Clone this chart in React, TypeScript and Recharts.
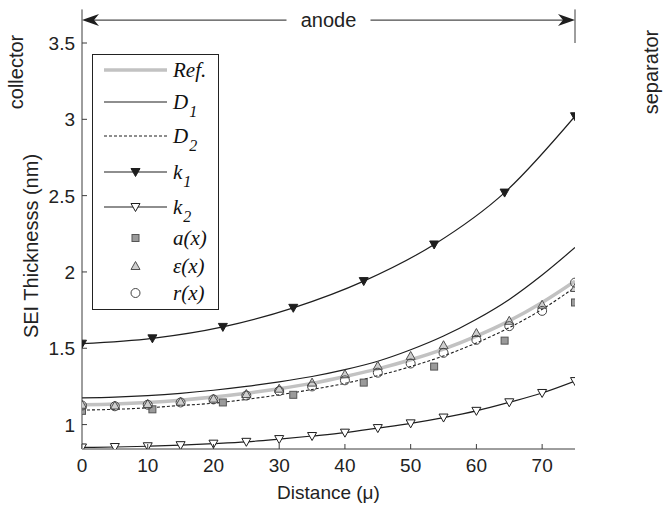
import React from 'react';
import { ComposedChart, Line, Scatter, XAxis, YAxis, ReferenceLine, Legend } from 'recharts';

// Distance grids (μ)
const distanceFine = [0, 5, 10, 15, 20, 25, 30, 35, 40, 45, 50, 55, 60, 65, 70, 75];
const distanceCoarse = [0, 10.71, 21.43, 32.14, 42.86, 53.57, 64.29, 75];

// SEI thickness (nm)
const refThickness = [1.13, 1.135, 1.145, 1.16, 1.18, 1.205, 1.235, 1.27, 1.315, 1.365, 1.425, 1.495, 1.58, 1.68, 1.8, 1.94];
const d1Thickness = [1.175, 1.18, 1.19, 1.205, 1.225, 1.25, 1.28, 1.315, 1.36, 1.415, 1.49, 1.58, 1.69, 1.82, 1.98, 2.16];
const d2Thickness = [1.095, 1.1, 1.11, 1.125, 1.14, 1.165, 1.195, 1.23, 1.27, 1.32, 1.38, 1.45, 1.535, 1.635, 1.755, 1.9];
const k1Thickness = [1.53, 1.565, 1.64, 1.765, 1.94, 2.18, 2.52, 3.02];
const k2Thickness = [0.85, 0.853, 0.858, 0.865, 0.875, 0.887, 0.905, 0.925, 0.947, 0.977, 1.008, 1.046, 1.09, 1.146, 1.207, 1.285];
const aThickness = [1.09, 1.1, 1.145, 1.195, 1.275, 1.38, 1.55, 1.8];
const epsThickness = [1.13, 1.125, 1.135, 1.15, 1.17, 1.2, 1.235, 1.275, 1.33, 1.385, 1.45, 1.52, 1.6, 1.68, 1.785, 1.895];
const rThickness = [1.125, 1.12, 1.13, 1.145, 1.165, 1.19, 1.22, 1.25, 1.29, 1.34, 1.4, 1.47, 1.555, 1.645, 1.745, 1.93];

const xTicks = [0, 10, 20, 30, 40, 50, 60, 70];
const yTicks = [1, 1.5, 2, 2.5, 3, 3.5];
const xDomain = [0, 75];
const yDomain = [0.84, 3.5];

const toPoints = (xs: number[], ys: number[]) => xs.map((x, i) => ({ x, y: ys[i] }));

const AXIS = '#3c3c3c';
const INK = '#1e1e1e';
const SANS = '"Liberation Sans", Arial, Helvetica, sans-serif';
const SERIF = '"Liberation Serif", "Times New Roman", serif';

// Marker glyphs
const downTri = (cx: number, cy: number, fill: string, stroke: string, key?: any) => (
  <path key={key} d={`M${cx - 4.5},${cy - 3.5} L${cx + 4.5},${cy - 3.5} L${cx},${cy + 4.5} Z`} fill={fill} stroke={stroke} strokeWidth={1} />
);
const upTri = (cx: number, cy: number, key?: any) => (
  <path key={key} d={`M${cx - 4.5},${cy + 3.5} L${cx + 4.5},${cy + 3.5} L${cx},${cy - 4.5} Z`} fill="#cfcfcf" stroke="#505050" strokeWidth={1} />
);
const square = (cx: number, cy: number, key?: any) => (
  <rect key={key} x={cx - 3.5} y={cy - 3.5} width={7} height={7} fill="#9a9a9a" stroke="#555" strokeWidth={1} />
);
const circle = (cx: number, cy: number, key?: any) => (
  <circle key={key} cx={cx} cy={cy} r={4.5} fill="none" stroke="#444" strokeWidth={1} />
);

// Axis ticks drawn inward, MATLAB style
const BottomTick = (p: any) => (
  <g>
    <line x1={p.x} y1={p.y} x2={p.x} y2={p.y - 5} stroke={AXIS} />
    <text x={p.x} y={p.y + 23} textAnchor="middle" fontFamily={SANS} fontSize={19} fill="#222">{p.payload.value}</text>
  </g>
);
const TopTick = (p: any) => <line x1={p.x} y1={p.y} x2={p.x} y2={p.y + 5} stroke={AXIS} />;
const LeftTick = (p: any) => (
  <g>
    <line x1={p.x} y1={p.y} x2={p.x + 5} y2={p.y} stroke={AXIS} />
    <text x={p.x - 7} y={p.y + 7} textAnchor="end" fontFamily={SANS} fontSize={19} fill="#222">{p.payload.value}</text>
  </g>
);
const RightTick = (p: any) => <line x1={p.x} y1={p.y} x2={p.x - 5} y2={p.y} stroke={AXIS} />;

// Region boundary above the plot, with its rotated caption
const boundary = (caption: string, dx: number) => (p: any) => {
  const tx = p.x1 + dx;
  const ty = p.y1 + 29;
  return (
    <g>
      <line x1={p.x1} y1={p.y1} x2={p.x2} y2={p.y2} stroke={AXIS} strokeWidth={1} />
      <text transform={`translate(${tx},${ty}) rotate(-90)`} textAnchor="middle" dominantBaseline="central" fontFamily={SANS} fontSize={20} fill="#222">{caption}</text>
    </g>
  );
};

// Double-headed span arrow with a centered caption
const SpanArrow = (p: any) => {
  const { x1, x2, y1 } = p;
  const mid = (x1 + x2) / 2;
  const gap = 42;
  return (
    <g>
      <line x1={x1 + 10} y1={y1} x2={mid - gap} y2={y1} stroke={INK} strokeWidth={1} />
      <line x1={mid + gap} y1={y1} x2={x2 - 10} y2={y1} stroke={INK} strokeWidth={1} />
      <path d={`M${x1},${y1} L${x1 + 17},${y1 - 6} L${x1 + 12},${y1} L${x1 + 17},${y1 + 6} Z`} fill={INK} />
      <path d={`M${x2},${y1} L${x2 - 17},${y1 - 6} L${x2 - 12},${y1} L${x2 - 17},${y1 + 6} Z`} fill={INK} />
      <text x={mid} y={y1 + 7} textAnchor="middle" fontFamily={SANS} fontSize={20} fill="#222">anode</text>
    </g>
  );
};

type LegendEntry = { label: string; sub?: string; kind: string };
const legendEntries: LegendEntry[] = [
  { label: 'Ref.', kind: 'ref' },
  { label: 'D', sub: '1', kind: 'd1' },
  { label: 'D', sub: '2', kind: 'd2' },
  { label: 'k', sub: '1', kind: 'k1' },
  { label: 'k', sub: '2', kind: 'k2' },
  { label: 'a(x)', kind: 'a' },
  { label: 'ε(x)', kind: 'eps' },
  { label: 'r(x)', kind: 'r' },
];
const legendRows = [16, 48, 82, 118, 153, 184, 212, 239];

const LegendBox = () => {
  const w = 127;
  const h = 256;
  const lx1 = 12;
  const lx2 = 75;
  const mx = 43.5;
  return (
    <svg width={w} height={h} style={{ display: 'block' }}>
      <rect x={0.5} y={0.5} width={w - 1} height={h - 1} fill="#fff" stroke="#222" strokeWidth={1} />
      {legendEntries.map((e, i) => {
        const y = legendRows[i];
        let sample: React.ReactNode = null;
        if (e.kind === 'ref') sample = <line x1={lx1} y1={y} x2={lx2} y2={y} stroke="#c2c2c2" strokeWidth={3.5} />;
        if (e.kind === 'd1') sample = <line x1={lx1} y1={y} x2={lx2} y2={y} stroke={INK} strokeWidth={1.2} />;
        if (e.kind === 'd2') sample = <line x1={lx1} y1={y} x2={lx2} y2={y} stroke={INK} strokeWidth={1.1} strokeDasharray="3 2" />;
        if (e.kind === 'k1') sample = <g><line x1={lx1} y1={y} x2={lx2} y2={y} stroke={INK} strokeWidth={1.2} />{downTri(mx, y, INK, INK)}</g>;
        if (e.kind === 'k2') sample = <g><line x1={lx1} y1={y} x2={lx2} y2={y} stroke={INK} strokeWidth={1.2} />{downTri(mx, y, '#fff', INK)}</g>;
        if (e.kind === 'a') sample = square(mx, y);
        if (e.kind === 'eps') sample = upTri(mx, y);
        if (e.kind === 'r') sample = circle(mx, y);
        return (
          <g key={e.kind}>
            {sample}
            <text x={81} y={y + 7} fontFamily={SERIF} fontStyle="italic" fontSize={21} fill="#111">
              {e.label}
              {e.sub ? <tspan fontSize={16} dx={1} dy={8}>{e.sub}</tspan> : null}
            </text>
          </g>
        );
      })}
    </svg>
  );
};

export default function App() {
  return (
    <div style={{ position: 'absolute', left: 0, top: 0, background: '#fff' }}>
      <ComposedChart width={665} height={507} margin={{ top: 43, right: 90, bottom: 0, left: 0 }}>
        <XAxis xAxisId="b" dataKey="x" type="number" domain={xDomain} ticks={xTicks} interval={0}
          tickSize={0} tickMargin={0} tickLine={false} tick={BottomTick} height={58}
          axisLine={{ stroke: AXIS }} allowDataOverflow
          label={{ content: (p: any) => (
            <text x={p.viewBox.x + p.viewBox.width / 2} y={p.viewBox.y + 50} textAnchor="middle" fontFamily={SANS} fontSize={19} fill="#222">Distance (μ)</text>
          ) }} />
        <XAxis xAxisId="t" orientation="top" dataKey="x" type="number" domain={xDomain} ticks={xTicks} interval={0}
          tickSize={0} tickMargin={0} tickLine={false} tick={TopTick} height={0} axisLine={{ stroke: AXIS }} allowDataOverflow />
        <YAxis yAxisId="l" dataKey="y" type="number" domain={yDomain} ticks={yTicks} interval={0}
          tickSize={0} tickMargin={0} tickLine={false} tick={LeftTick} width={82} axisLine={{ stroke: AXIS }} allowDataOverflow
          label={{ content: (p: any) => {
            const cx = 31;
            const cy = p.viewBox.y + p.viewBox.height / 2;
            return <text transform={`translate(${cx},${cy}) rotate(-90)`} textAnchor="middle" dominantBaseline="central" fontFamily={SANS} fontSize={20} fill="#222">SEI Thicknesss (nm)</text>;
          } }} />
        <YAxis yAxisId="r" orientation="right" type="number" domain={yDomain} ticks={yTicks} interval={0}
          tickSize={0} tickMargin={0} tickLine={false} tick={RightTick} width={0} axisLine={{ stroke: AXIS }} allowDataOverflow />

        <ReferenceLine xAxisId="b" yAxisId="l" segment={[{ x: 0, y: 3.5 }, { x: 0, y: 3.72 }]} ifOverflow="visible" shape={boundary('collector', -66)} />
        <ReferenceLine xAxisId="b" yAxisId="l" segment={[{ x: 75, y: 3.5 }, { x: 75, y: 3.72 }]} ifOverflow="visible" shape={boundary('separator', 76)} />
        <ReferenceLine xAxisId="b" yAxisId="l" segment={[{ x: 0, y: 3.65 }, { x: 75, y: 3.65 }]} ifOverflow="visible" shape={SpanArrow} />

        <Line xAxisId="b" yAxisId="l" data={toPoints(distanceFine, refThickness)} dataKey="y" name="Ref." type="monotone"
          stroke="#c2c2c2" strokeWidth={3.5} dot={false} isAnimationActive={false} />
        <Line xAxisId="b" yAxisId="l" data={toPoints(distanceFine, d1Thickness)} dataKey="y" name="D1" type="monotone"
          stroke={INK} strokeWidth={1.2} dot={false} isAnimationActive={false} />
        <Line xAxisId="b" yAxisId="l" data={toPoints(distanceFine, d2Thickness)} dataKey="y" name="D2" type="monotone"
          stroke={INK} strokeWidth={1.1} strokeDasharray="3 2" dot={false} isAnimationActive={false} />
        <Line xAxisId="b" yAxisId="l" data={toPoints(distanceCoarse, k1Thickness)} dataKey="y" name="k1" type="monotone"
          stroke={INK} strokeWidth={1.2} isAnimationActive={false}
          dot={(p: any) => downTri(p.cx, p.cy, INK, INK, `k1-${p.index}`)} />
        <Line xAxisId="b" yAxisId="l" data={toPoints(distanceFine, k2Thickness)} dataKey="y" name="k2" type="monotone"
          stroke={INK} strokeWidth={1.2} isAnimationActive={false}
          dot={(p: any) => downTri(p.cx, p.cy, '#fff', INK, `k2-${p.index}`)} />
        <Scatter xAxisId="b" yAxisId="l" data={toPoints(distanceCoarse, aThickness)} dataKey="y" name="a(x)"
          isAnimationActive={false} shape={(p: any) => square(p.cx, p.cy)} />
        <Scatter xAxisId="b" yAxisId="l" data={toPoints(distanceFine, epsThickness)} dataKey="y" name="ε(x)"
          isAnimationActive={false} shape={(p: any) => upTri(p.cx, p.cy)} />
        <Scatter xAxisId="b" yAxisId="l" data={toPoints(distanceFine, rThickness)} dataKey="y" name="r(x)"
          isAnimationActive={false} shape={(p: any) => circle(p.cx, p.cy)} />

        <Legend layout="vertical" align="center" verticalAlign="middle" content={() => <LegendBox />}
          wrapperStyle={{ left: 92, top: 54, width: 127, height: 256 }} />
      </ComposedChart>
    </div>
  );
}
